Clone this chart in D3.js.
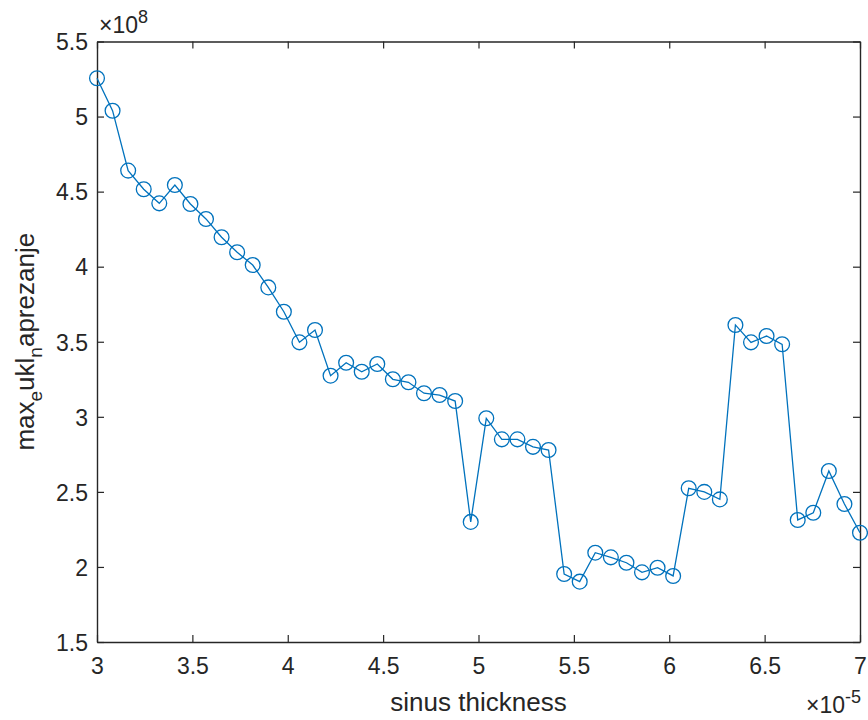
<!DOCTYPE html>
<html>
<head>
<meta charset="utf-8">
<script src="https://cdn.jsdelivr.net/npm/d3@7/dist/d3.min.js"></script>
<style>
  html, body { margin: 0; padding: 0; background: #fff; }
  svg { display: block; font-family: "Liberation Sans", Arial, sans-serif; }
</style>
</head>
<body>
<svg id="chart" width="868" height="720"></svg>
<script>
// sinus thickness (in units of 1e-5)
const thickness = [
  3.0000, 3.0816, 3.1633, 3.2449, 3.3265, 3.4082, 3.4898, 3.5714, 3.6531, 3.7347,
  3.8163, 3.8980, 3.9796, 4.0612, 4.1429, 4.2245, 4.3061, 4.3878, 4.4694, 4.5510,
  4.6327, 4.7143, 4.7959, 4.8776, 4.9592, 5.0408, 5.1224, 5.2041, 5.2857, 5.3673,
  5.4490, 5.5306, 5.6122, 5.6939, 5.7755, 5.8571, 5.9388, 6.0204, 6.1020, 6.1837,
  6.2653, 6.3469, 6.4286, 6.5102, 6.5918, 6.6735, 6.7551, 6.8367, 6.9184, 7.0000
];
// max equivalent stress (in units of 1e8)
const maxStress = [
  5.255, 5.039, 4.640, 4.516, 4.422, 4.544, 4.418, 4.318, 4.196, 4.096,
  4.011, 3.862, 3.700, 3.496, 3.578, 3.274, 3.360, 3.300, 3.352, 3.250,
  3.230, 3.157, 3.145, 3.105, 2.300, 2.990, 2.850, 2.850, 2.800, 2.779,
  1.953, 1.902, 2.095, 2.064, 2.028, 1.964, 1.995, 1.940, 2.524, 2.500,
  2.450, 3.612, 3.496, 3.538, 3.483, 2.313, 2.361, 2.639, 2.419, 2.228
];
const xTicks = [3, 3.5, 4, 4.5, 5, 5.5, 6, 6.5, 7];
const yTicks = [1.5, 2, 2.5, 3, 3.5, 4, 4.5, 5, 5.5];

const svg = d3.select("#chart");
const plot = { left: 97, right: 860, top: 41.5, bottom: 642 };
const axisColor = "#262626";
const lineColor = "#0072BD";
const fontSize = 23;
const labelSize = 26;

const x = d3.scaleLinear().domain([3, 7]).range([plot.left, plot.right]);
const y = d3.scaleLinear().domain([1.5, 5.5]).range([plot.bottom, plot.top]);

const fmt = d => String(d);
const tickLen = 7;

// bottom axis with inward ticks
const gx = svg.append("g")
  .attr("transform", `translate(0,${plot.bottom})`)
  .call(d3.axisBottom(x).tickValues(xTicks).tickFormat(fmt).tickSizeInner(-tickLen).tickSizeOuter(0).tickPadding(16));
// left axis with inward ticks
const gy = svg.append("g")
  .attr("transform", `translate(${plot.left},0)`)
  .call(d3.axisLeft(y).tickValues(yTicks).tickFormat(fmt).tickSizeInner(-tickLen).tickSizeOuter(0).tickPadding(9));
// top and right box edges with inward ticks, no labels
const gt = svg.append("g")
  .attr("transform", `translate(0,${plot.top})`)
  .call(d3.axisTop(x).tickValues(xTicks).tickFormat("").tickSizeInner(-tickLen).tickSizeOuter(0));
const gr = svg.append("g")
  .attr("transform", `translate(${plot.right},0)`)
  .call(d3.axisRight(y).tickValues(yTicks).tickFormat("").tickSizeInner(-tickLen).tickSizeOuter(0));

[gx, gy, gt, gr].forEach(g => {
  g.selectAll(".domain").attr("stroke", axisColor).attr("stroke-width", 1.4);
  g.selectAll(".tick line").attr("stroke", axisColor).attr("stroke-width", 1.2);
  g.selectAll(".tick text")
    .attr("fill", axisColor)
    .style("font-size", fontSize + "px")
    .style("font-family", "'Liberation Sans', Arial, sans-serif");
});
gy.selectAll(".tick text").attr("dy", "0.36em");

// data line and circle markers
const line = d3.line().x((d, i) => x(thickness[i])).y(d => y(d));
svg.append("path")
  .datum(maxStress)
  .attr("d", line)
  .attr("fill", "none")
  .attr("stroke", lineColor)
  .attr("stroke-width", 1.3);

svg.append("g")
  .selectAll("circle")
  .data(maxStress)
  .join("circle")
  .attr("cx", (d, i) => x(thickness[i]))
  .attr("cy", d => y(d))
  .attr("r", 7.4)
  .attr("fill", "none")
  .attr("stroke", lineColor)
  .attr("stroke-width", 1.3);

// exponent multipliers
const yExp = svg.append("text")
  .attr("x", plot.left + 2)
  .attr("y", plot.top - 9)
  .attr("fill", axisColor)
  .style("font-size", fontSize + "px");
yExp.append("tspan").text("\u00D710");
yExp.append("tspan").attr("dy", -10).style("font-size", "18px").text("8");

const xExp = svg.append("text")
  .attr("x", plot.right + 1)
  .attr("y", 713)
  .attr("text-anchor", "end")
  .attr("fill", axisColor)
  .style("font-size", fontSize + "px");
xExp.append("tspan").text("\u00D710");
xExp.append("tspan").attr("dy", -10).style("font-size", "18px").text("-5");

// axis titles
svg.append("text")
  .attr("x", (plot.left + plot.right) / 2)
  .attr("y", 711)
  .attr("text-anchor", "middle")
  .attr("fill", axisColor)
  .style("font-size", labelSize + "px")
  .text("sinus thickness");

const yl = svg.append("text")
  .attr("transform", `translate(34,${(plot.top + plot.bottom) / 2}) rotate(-90)`)
  .attr("text-anchor", "middle")
  .attr("fill", axisColor)
  .style("font-size", labelSize + "px");
yl.append("tspan").text("max");
yl.append("tspan").attr("dy", 8).style("font-size", "19px").text("e");
yl.append("tspan").attr("dy", -8).text("ukl");
yl.append("tspan").attr("dy", 8).style("font-size", "19px").text("n");
yl.append("tspan").attr("dy", -8).text("aprezanje");
</script>
</body>
</html>
